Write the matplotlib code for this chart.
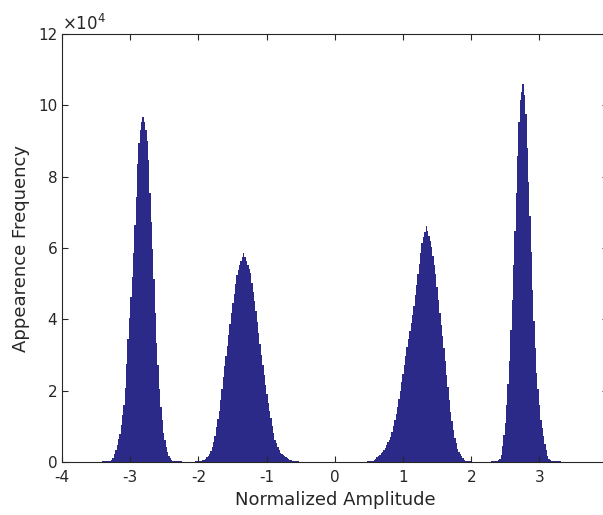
import numpy as np
import matplotlib
matplotlib.use('Agg')
import matplotlib.pyplot as plt

# histogram bins, width 0.02, counts in thousands
bin_width = 0.02

# peak near -2.8
p1_first = -3.51
p1_counts = [0.08, 0.08, 0.1, 0.1, 0.12, 0.15, 0.15, 0.2, 0.2, 0.25, 0.3, 0.4, 0.6, 1.0, 2.2,
             3.4, 4.9, 6.4, 7.9, 10.4, 13.2, 16.0, 20.8, 27.6, 34.4, 40.4, 46.2, 51.9, 58.7, 66.5,
             74.4, 83.7, 89.5, 93.0, 95.3,
             96.7,
             95.3, 93.2, 90.0, 84.7, 75.4, 67.4, 59.8, 51.4, 41.8, 33.5, 27.1, 20.6, 15.5, 11.8, 8.1,
             6.2, 4.3, 2.9, 1.7, 1.0, 0.6, 0.4, 0.3, 0.25, 0.2, 0.2, 0.15, 0.15, 0.12, 0.1,
             0.1, 0.08, 0.08, 0.06, 0.06]

# peak near -1.3
p2_first = -2.095
p2_counts = [0.08, 0.1, 0.12, 0.15, 0.2, 0.25, 0.3, 0.35, 0.45, 0.6, 0.8, 1.3, 1.8, 2.2, 3.1,
             4.3, 5.6, 7.4, 9.7, 12.1, 14.4, 17.3, 20.5, 23.8, 26.8, 29.6, 32.5, 35.5, 38.6, 41.8,
             44.7, 47.2, 49.8, 52.4, 53.9, 55.1, 56.3, 57.5,
             58.7,
             57.5, 56.4, 55.2, 54.1, 52.9, 50.3, 47.7, 45.2, 42.4, 39.2, 36.1, 33.0, 30.1, 27.1, 24.3,
             21.7, 19.2, 16.6, 14.3, 12.2, 10.1, 8.0, 6.1, 5.2, 4.3, 3.4, 2.5, 2.2, 2.0, 1.7,
             1.4, 1.2, 0.9, 0.6, 0.45, 0.35, 0.3, 0.25, 0.2, 0.15, 0.12, 0.1, 0.08, 0.08]

# peak near 1.3
p3_first = 0.38
p3_counts = [0.08, 0.08, 0.1, 0.1, 0.12, 0.15, 0.2, 0.25, 0.3, 0.4, 0.5, 0.9, 1.3, 1.7, 2.1,
             2.5, 2.9, 3.3, 4.0, 4.7, 5.5, 6.2, 7.0, 8.5, 10.2, 11.9, 13.6, 15.5, 17.8, 20.0,
             22.3, 24.6, 27.1, 29.7, 32.2, 34.5, 36.8, 39.0, 41.3, 43.8, 46.7, 49.6, 52.6, 55.5, 58.5,
             61.4, 63.0, 64.6,
             66.2,
             64.8, 63.5, 62.1, 60.3, 57.7, 55.2, 52.6, 49.1, 45.3, 41.7, 38.5, 35.4, 32.0, 28.2, 24.4,
             20.9, 17.4, 14.1, 11.5, 9.0, 6.7, 5.2, 3.7, 2.9, 2.3, 1.7, 1.1, 0.5, 0.4, 0.3,
             0.25, 0.2, 0.15, 0.12, 0.1]

# peak near 2.8
p4_first = 2.24
p4_counts = [0.08, 0.1, 0.12, 0.15, 0.2, 0.25, 0.3, 0.35, 0.5, 0.8, 2.1, 4.5, 7.6, 11.0, 16.1,
             21.8, 28.4, 36.9, 45.5, 55.1, 64.8, 75.5, 85.7, 95.3, 101.6, 103.8,
             106.0,
             102.8, 97.7, 88.1, 78.5, 68.9, 58.9, 48.2, 39.5, 31.9, 24.9, 20.5, 16.0, 11.7, 9.5, 7.2,
             5.0, 3.3, 1.7, 0.8, 0.5, 0.4, 0.3, 0.25, 0.2, 0.2, 0.15, 0.15, 0.12, 0.12, 0.1,
             0.1, 0.08, 0.08, 0.06, 0.06]

x_ticks = [-4, -3, -2, -1, 0, 1, 2, 3, 4]
y_ticks = [0, 2, 4, 6, 8, 10, 12]

bar_color = '#2c2a88'
axis_color = '#262626'

fig = plt.figure(figsize=(6.03, 5.15), dpi=100)
ax = fig.add_axes([0.1028, 0.1029, 0.905, 0.831])

for first, counts in [(p1_first, p1_counts), (p2_first, p2_counts),
                      (p3_first, p3_counts), (p4_first, p4_counts)]:
    vals = np.array(counts) / 10.0  # thousands -> units of 1e4
    edges = first - bin_width / 2 + bin_width * np.arange(len(vals) + 1)
    ax.stairs(vals, edges, fill=True, color=bar_color, linewidth=0)

ax.set_xlim(-4, 4)
ax.set_ylim(0, 12)
ax.set_xticks(x_ticks)
ax.set_yticks(y_ticks)
ax.set_xticklabels([str(t) for t in x_ticks])
ax.set_yticklabels([str(t) for t in y_ticks])

ax.tick_params(direction='in', length=4, width=0.8, top=True, right=True,
               colors=axis_color, labelsize=11)
ax.tick_params(axis='x', pad=6)
for s in ax.spines.values():
    s.set_color(axis_color)
    s.set_linewidth(0.8)

ax.set_xlabel('Normalized Amplitude', fontsize=13, color=axis_color)
ax.set_ylabel('Appearence Frequency', fontsize=13, color=axis_color, labelpad=6)
ax.text(0.0, 1.0, r'$\times10^{4}$', transform=ax.transAxes, fontsize=12,
        color=axis_color, ha='left', va='bottom')

fig.savefig('out.png', dpi=100, facecolor='white')
